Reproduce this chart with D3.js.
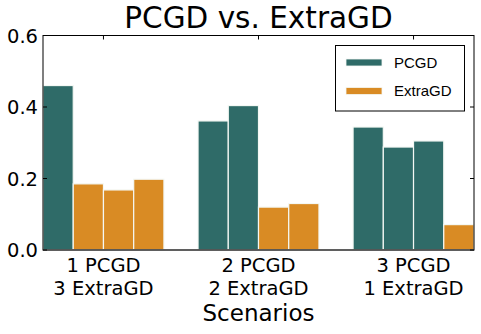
<!DOCTYPE html>
<html>
<head>
<meta charset="utf-8">
<script src="https://cdn.jsdelivr.net/npm/d3@7"></script>
<style>
  body { margin: 0; background: #fff; }
  svg { display: block; }
  text { font-family: "DejaVu Sans", sans-serif; fill: #000; }
  .legend text { font-family: "Liberation Sans", Arial, sans-serif; }
</style>
</head>
<body>
<div id="chart"></div>
<script>
// chart data
var scenarios = [["1 PCGD", "3 ExtraGD"], ["2 PCGD", "2 ExtraGD"], ["3 PCGD", "1 ExtraGD"]];
var barValues = [
  [0.460, 0.185, 0.168, 0.198],
  [0.361, 0.404, 0.120, 0.130],
  [0.344, 0.288, 0.305, 0.071]
];
var barKinds = [
  ["PCGD", "ExtraGD", "ExtraGD", "ExtraGD"],
  ["PCGD", "PCGD", "ExtraGD", "ExtraGD"],
  ["PCGD", "PCGD", "PCGD", "ExtraGD"]
];
var seriesNames = ["PCGD", "ExtraGD"];
var yTicks = [0.0, 0.2, 0.4, 0.6];

var width = 481, height = 334;
var margin = {top: 35.5, right: 7, bottom: 84, left: 43};
var barW = 0.195;
var colors = {PCGD: "#2f6b68", ExtraGD: "#d98b24"};

var svg = d3.select("#chart")
  .append("svg")
  .attr("width", width)
  .attr("height", height);

var x = d3.scaleLinear()
  .domain([-2 * barW, scenarios.length - 1 + 2 * barW])
  .range([margin.left, width - margin.right]);

var y = d3.scaleLinear()
  .domain([0, 0.6])
  .range([height - margin.bottom, margin.top]);

//bars
var groups = svg.selectAll(".group")
  .data(barValues)
  .enter().append("g")
  .attr("class", "group");

groups.selectAll("rect")
  .data(function(d, i) {
    return d.map(function(v, j) { return {g: i, j: j, v: v, kind: barKinds[i][j]}; });
  })
  .enter().append("rect")
  .attr("x", function(d) { return x(d.g - 2 * barW + d.j * barW); })
  .attr("width", function(d) { return x(barW) - x(0); })
  .attr("y", function(d) { return y(d.v); })
  .attr("height", function(d) { return y(0) - y(d.v); })
  .attr("fill", function(d) { return colors[d.kind]; })
  .attr("stroke", "#f4f8f4")
  .attr("stroke-width", 1.2);

//frame
var x0 = x.range()[0], x1 = x.range()[1], y0 = y.range()[0], y1 = y.range()[1];
svg.append("rect")
  .attr("x", x0).attr("y", y1)
  .attr("width", x1 - x0).attr("height", y0 - y1)
  .attr("fill", "none")
  .attr("stroke", "#000")
  .attr("stroke-width", 1);
svg.append("line")
  .attr("x1", x0).attr("x2", x1).attr("y1", y0).attr("y2", y0)
  .attr("stroke", "#555").attr("stroke-width", 1.6);

//y ticks, inward on both sides
var yAxis = svg.append("g");
yTicks.forEach(function(t) {
  yAxis.append("line")
    .attr("x1", x0).attr("x2", x0 + 4).attr("y1", y(t)).attr("y2", y(t))
    .attr("stroke", "#000");
  yAxis.append("line")
    .attr("x1", x1).attr("x2", x1 - 4).attr("y1", y(t)).attr("y2", y(t))
    .attr("stroke", "#000");
  yAxis.append("text")
    .attr("x", x0 - 5)
    .attr("y", y(t))
    .attr("dy", "0.36em")
    .attr("text-anchor", "end")
    .style("font-size", "19.5px")
    .text(d3.format(".1f")(t));
});

//x ticks and labels
var xAxis = svg.append("g");
scenarios.forEach(function(lines, i) {
  xAxis.append("line")
    .attr("x1", x(i)).attr("x2", x(i)).attr("y1", y1).attr("y2", y1 + 4)
    .attr("stroke", "#000");
  lines.forEach(function(s, k) {
    xAxis.append("text")
      .attr("x", x(i))
      .attr("y", 271.5 + k * 23.3)
      .attr("text-anchor", "middle")
      .style("font-size", "19.5px")
      .text(s);
  });
});

svg.append("text")
  .attr("x", (x0 + x1) / 2)
  .attr("y", 321)
  .attr("text-anchor", "middle")
  .style("font-size", "23px")
  .text("Scenarios");

svg.append("text")
  .attr("x", (x0 + x1) / 2)
  .attr("y", 28)
  .attr("text-anchor", "middle")
  .style("font-size", "29.5px")
  .text("PCGD vs. ExtraGD");

//legend
var legend = svg.append("g").attr("class", "legend");
legend.append("rect")
  .attr("x", 335.5).attr("y", 45.5)
  .attr("width", 129).attr("height", 65.5)
  .attr("fill", "#fff")
  .attr("stroke", "#000");
seriesNames.forEach(function(name, i) {
  var ly = 62.5 + i * 28.5;
  legend.append("rect")
    .attr("x", 346).attr("y", ly - 3.5)
    .attr("width", 36).attr("height", 7)
    .attr("fill", colors[name])
    .attr("stroke", "#f4f8f4").attr("stroke-width", 0.8);
  legend.append("text")
    .attr("x", 394)
    .attr("y", ly)
    .attr("dy", "0.36em")
    .style("font-size", "15px")
    .text(name);
});
</script>
</body>
</html>
